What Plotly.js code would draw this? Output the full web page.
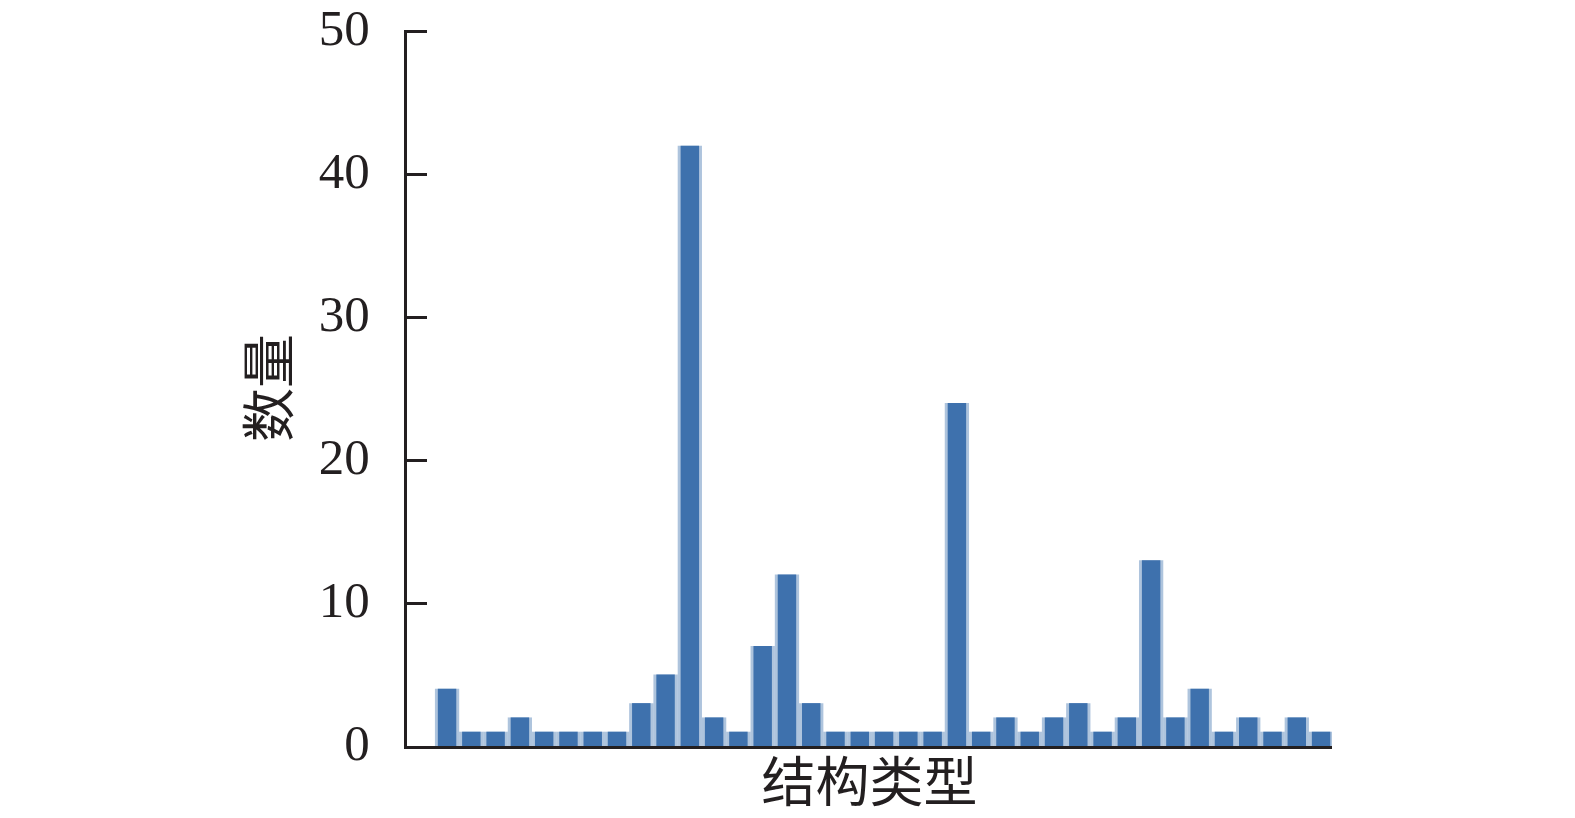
<!DOCTYPE html>
<html>
<head>
<meta charset="utf-8">
<script src="https://cdn.plot.ly/plotly-3.0.1.min.js"></script>
<style>html,body{margin:0;padding:0;background:#fff;}#chart{width:1575px;height:818px;}</style>
</head>
<body>
<div id="chart"></div>
<script>
const structureIndex = [0,1,2,3,4,5,6,7,8,9,10,11,12,13,14,15,16,17,18,19,20,21,22,23,24,25,26,27,28,29,30,31,32,33,34,35,36];
const counts = [4,1,1,2,1,1,1,1,3,5,42,2,1,7,12,3,1,1,1,1,1,24,1,2,1,2,3,1,2,13,2,4,1,2,1,2,1];
const yTicks = [0,10,20,30,40,50];
const xTitle = '结构类型';
const yTitle = '数量';

const halo = {
  type: 'bar', x: structureIndex, y: counts, width: 1.0,
  marker: {color: 'rgba(61,114,175,0.42)', line: {width: 0}},
  hoverinfo: 'skip'
};
const bars = {
  type: 'bar', x: structureIndex, y: counts, width: 0.76,
  marker: {color: '#3e71ad', line: {width: 0}}
};

const layout = {
  width: 1575, height: 818,
  margin: {l: 407, r: 243, t: 30, b: 72},
  paper_bgcolor: '#fff', plot_bgcolor: '#fff',
  barmode: 'overlay',
  showlegend: false,
  font: {family: 'Times New Roman', color: '#231f20'},
  xaxis: {
    range: [-1.65, 36.45],
    showticklabels: false, ticks: 'outside', ticklen: 8, tickcolor: 'rgba(0,0,0,0)',
    showgrid: false, zeroline: false,
    showline: true, linecolor: '#231f20', linewidth: 3,
    title: {text: xTitle, font: {family: 'Noto Sans CJK SC', size: 54, color: '#231f20'}, standoff: 30}
  },
  yaxis: {
    range: [0, 50.1],
    tickvals: yTicks, ticktext: yTicks.map(String),
    ticks: 'inside', ticklen: 20, tickwidth: 3, tickcolor: '#231f20',
    showgrid: false, zeroline: false,
    showline: true, linecolor: '#231f20', linewidth: 3,
    tickfont: {family: 'Times New Roman', size: 51, color: '#231f20'},
    ticklabelstandoff: 24,
    ticklabelshift: -4,
    ticklabeloverflow: 'allow',
    title: {text: yTitle, font: {family: 'Noto Sans CJK SC', size: 54, color: '#231f20'}, standoff: 12}
  }
};

Plotly.newPlot('chart', [halo, bars], layout, {displayModeBar: false, staticPlot: true});
</script>
</body>
</html>
